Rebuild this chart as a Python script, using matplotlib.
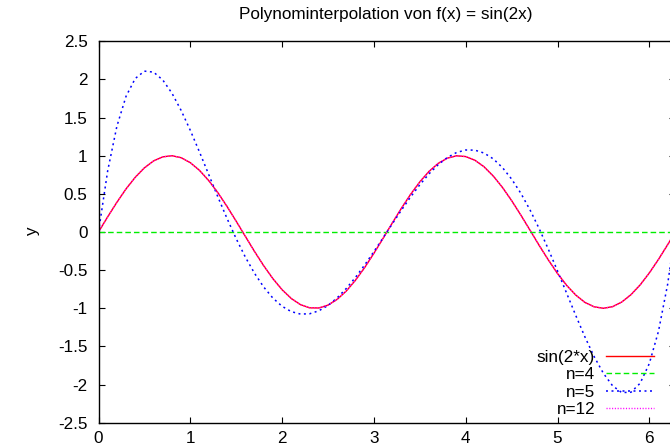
import numpy as np
import matplotlib
matplotlib.use("Agg")
import matplotlib.pyplot as plt

plt.rcParams["font.family"] = ["Liberation Sans", "DejaVu Sans"]

# sample positions along x (step 0.1, the same for every curve)
x = np.round(np.arange(64) * 0.1, 1)

# values at those positions
sin_y = [0.000, 0.199, 0.389, 0.565, 0.717, 0.841, 0.932, 0.985, 1.000, 0.974,
         0.909, 0.808, 0.675, 0.516, 0.335, 0.141, -0.058, -0.256, -0.443, -0.612,
         -0.757, -0.872, -0.952, -0.994, -0.996, -0.959, -0.883, -0.773, -0.631, -0.465,
         -0.279, -0.083, 0.117, 0.312, 0.494, 0.657, 0.794, 0.899, 0.968, 0.999,
         0.989, 0.941, 0.855, 0.734, 0.585, 0.412, 0.223, 0.025, -0.175, -0.366,
         -0.544, -0.700, -0.828, -0.924, -0.981, -1.000, -0.979, -0.918, -0.822, -0.694,
         -0.537, -0.359, -0.166, 0.033]

n4_x = [0.0, 6.3]
n4_y = [0.0, 0.0]

n5_y = [0.000, 0.802, 1.385, 1.779, 2.012, 2.109, 2.096, 1.993, 1.820, 1.594,
        1.333, 1.049, 0.755, 0.461, 0.178, -0.088, -0.330, -0.542, -0.722, -0.867,
        -0.974, -1.044, -1.076, -1.072, -1.033, -0.963, -0.863, -0.739, -0.594, -0.431,
        -0.257, -0.076, 0.107, 0.287, 0.460, 0.619, 0.762, 0.882, 0.977, 1.042,
        1.075, 1.073, 1.035, 0.959, 0.845, 0.694, 0.509, 0.291, 0.045, -0.225,
        -0.510, -0.804, -1.097, -1.379, -1.635, -1.853, -2.016, -2.105, -2.101, -1.983,
        -1.725, -1.301, -0.684, 0.159]

# n=12 sits on top of sin(2x) everywhere in the picture
n12_y = list(sin_y)

labels = ["sin(2*x)", "n=4", "n=5", "n=12"]
xticks = [0, 1, 2, 3, 4, 5, 6]
yticks = [-2.5, -2, -1.5, -1, -0.5, 0, 0.5, 1, 1.5, 2, 2.5]

FS = 12.3
W, H = 670, 448
fig = plt.figure(figsize=(W / 100, H / 100), dpi=100)
# plot box runs a few pixels past the right edge of the image
ax = fig.add_axes([98.5 / W, 25.3 / H, 576.8 / W, 381.4 / H])

ax.plot(x, sin_y, color="#ff0000", lw=1.0, label=labels[0])
ax.plot(n4_x, n4_y, color="#00ee00", lw=1.0, dashes=(4, 2.2), label=labels[1])
ax.plot(x, n5_y, color="#0000ff", lw=1.1, dashes=(1.3, 2.3), label=labels[2])
ax.plot(x, n12_y, color="#ff00ff", lw=1.0, dashes=(0.8, 1.2), label=labels[3])

ax.set_xlim(0, 2 * np.pi)
ax.set_ylim(-2.5, 2.5)
ax.set_xticks(xticks)
ax.set_yticks(yticks)
ax.set_yticklabels([f"{v:g}" for v in yticks])
ax.tick_params(direction="in", length=4.5, width=0.8, top=True, right=True,
               labelsize=FS, colors="black")
ax.tick_params(axis="y", pad=8)
ax.tick_params(axis="x", pad=6)
for s in ax.spines.values():
    s.set_linewidth(1.0)

ax.set_ylabel("y", fontsize=FS, rotation=90)
ax.yaxis.set_label_coords((40 - 98.5) / 576.8, 0.5)

fig.text(386 / W, 1 - 14 / H, "Polynominterpolation von f(x) = sin(2x)",
         ha="center", va="center", fontsize=FS)

leg = ax.legend(loc="lower right", bbox_to_anchor=(654 / W, (448 - 417) / H),
                bbox_transform=fig.transFigure, frameon=False, markerfirst=False,
                fontsize=FS, handlelength=2.8, handletextpad=0.65,
                labelspacing=0.14, borderpad=0, borderaxespad=0)

fig.savefig("out.png", dpi=100)
